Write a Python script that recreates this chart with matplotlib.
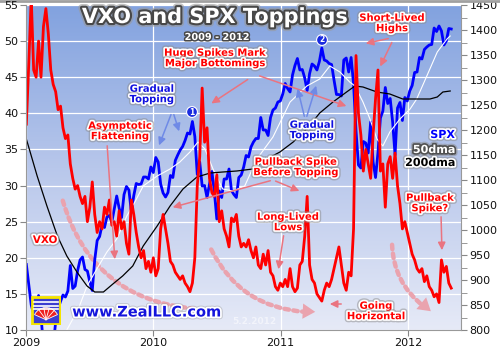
import numpy as np
import pandas as pd
import matplotlib
matplotlib.use("Agg")
import matplotlib.pyplot as plt
import matplotlib.dates as mdates
import matplotlib.patheffects as pe
from matplotlib.ticker import MultipleLocator
from matplotlib.patches import FancyArrowPatch, Rectangle, Wedge
from matplotlib.colors import LinearSegmentedColormap

W, H = 500, 350

# weekly closes, Jan 2 2009 .. May 2012
weeks = pd.date_range("2009-01-02", periods=175, freq="7D")

spx = [931, 890, 850, 832, 826, 869, 827, 770, 735, 683, 756, 768, 816,
       843, 857, 870, 866, 878, 929, 883, 888, 919, 940, 946, 921, 918,
       896, 879, 940, 979, 987, 1010, 1005, 1026, 1029, 1016, 1042, 1068, 1044,
       1025, 1071, 1087, 1080, 1036, 1069, 1093, 1091, 1092, 1106, 1106, 1102, 1126,
       # 2010
       1115, 1145, 1136, 1092, 1074, 1066, 1075, 1109, 1105, 1139, 1150, 1160, 1167,
       1179, 1194, 1192, 1217, 1187, 1111, 1136, 1088, 1089, 1065, 1092, 1117, 1076,
       1022, 1078, 1065, 1102, 1102, 1122, 1079, 1071, 1065, 1105, 1110, 1126, 1149,
       1146, 1166, 1176, 1183, 1183, 1225, 1200, 1200, 1189, 1225, 1240, 1244, 1256, 1258,
       # 2011
       1272, 1293, 1283, 1276, 1310, 1329, 1343, 1320, 1321, 1304, 1279, 1313,
       1332, 1328, 1320, 1337, 1364, 1340, 1338, 1333, 1331, 1300, 1271, 1271, 1268,
       1340, 1344, 1316, 1345, 1292, 1199, 1130, 1124, 1177, 1174, 1154, 1216, 1136, 1105,
       1155, 1224, 1238, 1285, 1253, 1263, 1216, 1150, 1244, 1255, 1219, 1265, 1258,
       # 2012
       1278, 1289, 1315, 1316, 1345, 1342, 1361, 1366, 1370, 1371, 1404, 1397, 1408,
       1398, 1370, 1378, 1403, 1402]

vxo = [38.5, 47, 56, 46, 45, 50, 45, 52, 54.5, 51,
       46, 44, 43, 40.5, 41, 38, 36.5, 37, 33, 31,
       29.5, 30, 28.5, 27.5, 28.5, 25, 27, 30.5, 26, 23.5,
       25, 24, 27, 26, 28, 24.5, 25, 23, 26.5, 24,
       25, 22, 20.5, 28, 26, 23.5, 21.5, 20, 21, 18.5,
       19.5, 18, 20, 17.5, 18.5, 24, 26, 24, 22, 19.5,
       19, 18, 17.5, 17, 17.5, 16.5, 16, 15.3, 16.5, 20,
       30, 34, 43.5, 36, 38, 31, 29, 28.5, 31.5, 25,
       26.5, 24, 23, 21.5, 25.5, 25, 26, 23, 21.5, 22,
       21.5, 22.5, 21, 20, 21.5, 19, 18.5, 20.5, 19, 21,
       18, 17.5, 16, 15.5, 16.5, 16, 17, 16, 18.5, 16,
       15.3, 15.8, 19, 19.5, 23, 28.5, 19, 17, 16.5, 15,
       14.5, 14, 15.5, 16.5, 16, 17, 18.5, 20, 21.5, 19,
       16.5, 15.5, 18, 17.5, 24, 48, 40, 37, 32, 35,
       33, 31, 37, 42, 46, 32, 33, 27, 33, 34,
       31, 34.5, 30, 27.5, 24, 25, 23.5, 22, 20.5, 19.7,
       18.5, 18, 18.5, 16.7, 17.5, 16, 15.5, 14.6, 15, 13.8,
       19.7, 18, 18.8, 16.5, 15.8]

dma200_dates = ["2009-01-02", "2009-02-02", "2009-03-02", "2009-04-01", "2009-04-28",
                "2009-05-27", "2009-06-25", "2009-07-17", "2009-08-11", "2009-09-07",
                "2009-10-05", "2009-11-03", "2009-12-03", "2010-01-12", "2010-02-18",
                "2010-03-27", "2010-05-06", "2010-06-13", "2010-07-19", "2010-08-28",
                "2010-10-13", "2010-11-22", "2010-12-30", "2011-02-06", "2011-03-17",
                "2011-04-23", "2011-05-31", "2011-07-09", "2011-08-02", "2011-08-25",
                "2011-10-04", "2011-11-10", "2011-12-17", "2012-01-26", "2012-03-04",
                "2012-03-25", "2012-04-10", "2012-05-01"]
dma200 = [1182, 1108, 1048, 988, 948, 916, 888, 876, 876, 892, 908, 928, 968,
          1008, 1048, 1082, 1106, 1114, 1116, 1118, 1122, 1142, 1156,
          1176, 1202, 1234, 1256, 1276, 1288, 1286, 1276, 1272, 1262,
          1262, 1262, 1266, 1276, 1278]

dma50_dates = ["2009-04-24", "2009-05-31", "2009-06-25", "2009-07-23", "2009-08-21",
               "2009-09-18", "2009-10-17", "2009-11-09", "2009-12-03", "2010-01-12",
               "2010-02-18", "2010-03-18", "2010-04-16", "2010-05-09", "2010-05-29",
               "2010-06-21", "2010-07-19", "2010-08-17", "2010-09-20", "2010-10-25",
               "2010-12-10", "2011-01-28", "2011-03-17", "2011-04-23", "2011-05-22",
               "2011-06-20", "2011-07-18", "2011-08-02", "2011-08-25", "2011-09-14",
               "2011-10-04", "2011-10-21", "2011-11-10", "2011-12-09", "2012-01-07",
               "2012-01-26", "2012-02-24", "2012-03-25", "2012-04-22", "2012-05-01"]
dma50 = [795, 842, 888, 922, 956, 982, 1028, 1056, 1088,
         1108, 1122, 1136, 1156, 1176, 1162, 1122, 1082, 1078, 1088, 1142, 1186,
         1256, 1288, 1302, 1328, 1316, 1296, 1288, 1256, 1222, 1182, 1168, 1196, 1222,
         1242, 1262, 1308, 1356, 1382, 1388]


def fxy(x, y):
    # picture pixels -> figure fraction
    return (x / W, 1 - y / H)


def note(x, y, s, color, size=7.2, ha="center", outline="white", shadow="#8a8a8a"):
    fig.text(x / W, 1 - y / H, s, color=color, fontsize=size, fontweight="bold",
             ha=ha, va="center", linespacing=1.05, zorder=10,
             path_effects=[pe.Stroke(linewidth=4.5, foreground=shadow, alpha=0.5),
                           pe.Stroke(linewidth=2.4, foreground=outline), pe.Normal()])


def arrow(p, q, color="#ea7480"):
    fig.add_artist(FancyArrowPatch(fxy(*p), fxy(*q), transform=fig.transFigure,
                                   arrowstyle="-|>,head_length=0.45,head_width=0.22",
                                   mutation_scale=10, color=color, lw=1.1, zorder=9))


def dotted(p, q, rad, head=None):
    fig.add_artist(FancyArrowPatch(fxy(*p), fxy(*q), transform=fig.transFigure,
                                   connectionstyle=f"arc3,rad={rad}", arrowstyle="-",
                                   color="#eaa3ae", lw=3.2, linestyle=(0, (1, 1)),
                                   zorder=0.5))
    if head:
        fig.add_artist(FancyArrowPatch(fxy(*head[0]), fxy(*head[1]), transform=fig.transFigure,
                                       arrowstyle="-|>,head_length=0.9,head_width=0.55",
                                       mutation_scale=10, color="#eaa3ae", lw=0, zorder=0.5))


fig = plt.figure(figsize=(5, 3.5), dpi=100)
rect = [26 / W, 1 - 330 / H, (461 - 26) / W, (330 - 5) / H]
xmin, xmax = pd.Timestamp("2009-01-01"), pd.Timestamp("2012-06-01")

# background gradient + grid
bg = fig.add_axes(rect, zorder=0)
cmap = LinearSegmentedColormap.from_list("bg", ["#e6eaf7", "#b8c7eb", "#82a2df"])
bg.imshow(np.linspace(0, 1, 256).reshape(-1, 1), cmap=cmap, aspect="auto",
          extent=[0, 1, 0, 1], transform=bg.transAxes, origin="lower", zorder=0)
bg.set_xlim(xmin, xmax)
bg.set_ylim(10, 55)
bg.xaxis.set_major_locator(mdates.MonthLocator(bymonth=[1, 4, 7, 10]))
bg.yaxis.set_major_locator(MultipleLocator(5))
bg.grid(True, color="white", lw=0.9)
bg.tick_params(length=0, labelbottom=False, labelleft=False)
for s in bg.spines.values():
    s.set_visible(False)

# SPX on the right axis
ax_s = fig.add_axes(rect, zorder=1, sharex=bg)
ax_s.patch.set_visible(False)
ax_s.plot(weeks, spx, color="#0000ff", lw=2.0)
ax_s.plot(pd.to_datetime(dma50_dates), dma50, color="white", lw=0.8)
ax_s.plot(pd.to_datetime(dma200_dates), dma200, color="black", lw=0.9)
ax_s.set_ylim(800, 1450)
ax_s.yaxis.tick_right()
ax_s.yaxis.set_major_locator(MultipleLocator(50))
ax_s.yaxis.set_minor_locator(MultipleLocator(25))
ax_s.tick_params(axis="y", which="both", direction="out", length=4, color="#888888",
                 labelsize=8, pad=2, labelcolor="#111111")
ax_s.tick_params(axis="x", which="both", bottom=False, labelbottom=False)
for k, s in ax_s.spines.items():
    s.set_visible(k == "right")
    s.set_color("#999999")

# VXO on the left axis
ax_v = fig.add_axes(rect, zorder=2, sharex=bg)
ax_v.patch.set_visible(False)
ax_v.plot(weeks, vxo, color="#ff0000", lw=2.0)
ax_v.set_ylim(10, 55)
ax_v.set_xlim(xmin, xmax)
ax_v.yaxis.set_major_locator(MultipleLocator(5))
ax_v.xaxis.set_major_locator(mdates.YearLocator())
ax_v.xaxis.set_major_formatter(mdates.DateFormatter("%Y"))
ax_v.tick_params(direction="out", length=4, color="#888888", labelsize=8, pad=1.5,
                 labelcolor="#111111")
for k, s in ax_v.spines.items():
    s.set_visible(k in ("left", "bottom"))
    s.set_color("#999999")

fig.add_artist(plt.Line2D([0, 1], [0.997, 0.997], transform=fig.transFigure,
                          color="#a0a0a0", lw=2))

# dotted curves
dotted((62, 198), (198, 309), 0.35)
dotted((210, 247), (308, 312), 0.3, head=((300, 311), (318, 312)))
dotted((392, 242), (426, 308), 0.25, head=((421, 303), (433, 313)))

# title
fig.text(215 / W, 1 - 17 / H, "VXO and SPX Toppings", color="white", fontsize=15,
         fontweight="bold", ha="center", va="center", zorder=10,
         path_effects=[pe.Stroke(linewidth=5.5, foreground="#9a9a9a", alpha=0.6),
                       pe.Stroke(linewidth=3, foreground="#484848"), pe.Normal()])
fig.text(217 / W, 1 - 37 / H, "2009 - 2012", color="white", fontsize=7,
         fontweight="bold", ha="center", va="center", zorder=10,
         path_effects=[pe.Stroke(linewidth=2.2, foreground="#484848"), pe.Normal()])

# annotations
note(215, 58, "Huge Spikes Mark\nMajor Bottomings", "#ff0000")
arrow((250, 78), (209, 105))
arrow((257, 75), (349, 107))

note(392, 23, "Short-Lived\nHighs", "#ff0000")
arrow((391, 38), (363, 44))
arrow((393, 40), (379, 69))

note(152, 94, "Gradual\nTopping", "#1010e0")
arrow((172, 112), (158, 148), "#6f8ae6")
arrow((173, 112), (180, 134), "#6f8ae6")

note(312, 130, "Gradual\nTopping", "#1010e0")
arrow((305, 119), (297, 86), "#6f8ae6")
arrow((306, 119), (317, 83), "#6f8ae6")

note(120, 131, "Asymptotic\nFlattening", "#ff0000")
arrow((107, 143), (115, 262))

note(296, 167, "Pullback Spike\nBefore Topping", "#ff0000")
arrow((273, 180), (170, 208))
arrow((273, 180), (302, 192))

note(288, 222, "Long-Lived\nLows", "#ff0000")
arrow((284, 233), (278, 272))

note(376, 311, "Going\nHorizontal", "#ff0000")
arrow((344, 304), (327, 304))

note(430, 203, "Pullback\nSpike?", "#ff0000")
arrow((441, 214), (442, 253))

note(45, 240, "VXO", "#ff0000", size=7.5)
note(455, 135, "SPX", "#0000ff", size=8, ha="right")
note(455, 150, "50dma", "white", size=8, ha="right", outline="#505050")
note(455, 163, "200dma", "black", size=8, ha="right")

for x, y, s in [(192, 112, "1"), (322, 40, "2")]:
    fig.text(x / W, 1 - y / H, s, color="white", fontsize=5.5, fontweight="bold",
             ha="center", va="center", zorder=10,
             bbox=dict(boxstyle="circle,pad=0.12", fc="#1a2be0", ec="white", lw=0.8))

# site mark
fig.text(147 / W, 1 - 312 / H, "www.ZealLLC.com", color="#1414dc", fontsize=10.5,
         fontweight="bold", ha="center", va="center", zorder=10,
         path_effects=[pe.Stroke(linewidth=4, foreground="#9a9a9a", alpha=0.4),
                       pe.Stroke(linewidth=2.5, foreground="white"), pe.Normal()])
fig.text(232 / W, 1 - 322 / H, "5.2.2012", color="#f2f4fb", fontsize=6.5,
         fontweight="bold", ha="left", va="center", zorder=10)

logo = fig.add_axes([31 / W, 1 - 325 / H, 30 / W, 29 / H], zorder=8)
logo.set_xlim(0, 1)
logo.set_ylim(0, 1)
logo.axis("off")
logo.add_patch(Rectangle((0.03, 0.03), 0.94, 0.94, fc="#3c3cd0", ec="#f4e400", lw=2))
for yy in (0.78, 0.66, 0.54):
    logo.plot([0.1, 0.9], [yy, yy], color="white", lw=1.2)
logo.add_patch(Wedge((0.5, 0.18), 0.42, 25, 155, fc="#ee2020", ec="white", lw=0.6))
for ang in (50, 75, 100, 125):
    a = np.deg2rad(ang)
    logo.plot([0.5, 0.5 + 0.42 * np.cos(a)], [0.18, 0.18 + 0.42 * np.sin(a)],
              color="white", lw=0.6)

fig.savefig("out.png", dpi=100)
